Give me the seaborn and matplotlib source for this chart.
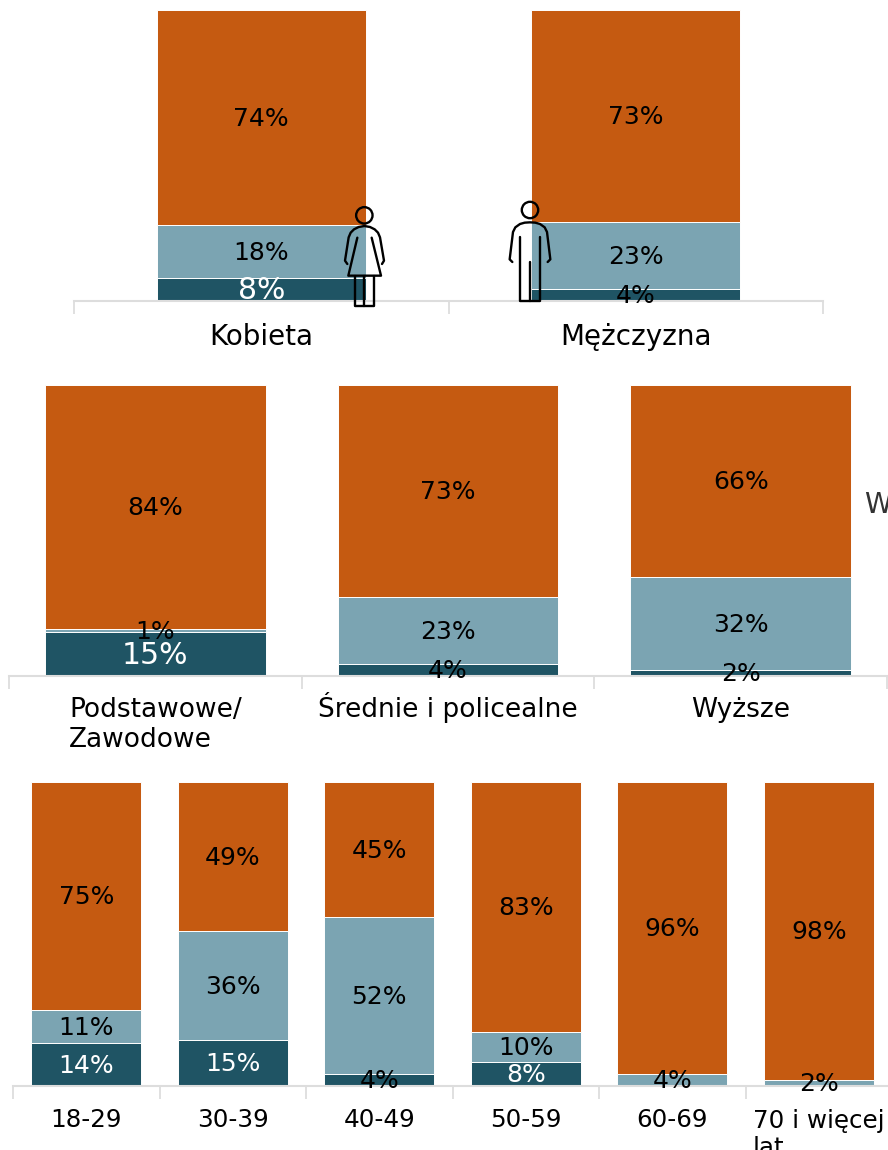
import numpy as np
import pandas as pd
import matplotlib
matplotlib.use('Agg')
import matplotlib.pyplot as plt
import seaborn as sns

sns.set_theme(style='white')
plt.rcParams['font.family'] = ['DejaVu Sans']

DARK = '#1F5464'
MID = '#7BA4B2'
ORANGE = '#C55A11'
GRID = '#DDDDDD'
W, H = 888, 1150

# płeć
sex_cats = ['Kobieta', 'Mężczyzna']
sex_dark = [8, 4]
sex_mid = [18, 23]
sex_orange = [74, 73]

# wykształcenie
edu_cats = ['Podstawowe/\nZawodowe', 'Średnie i policealne', 'Wyższe']
edu_dark = [15, 4, 2]
edu_mid = [1, 23, 32]
edu_orange = [84, 73, 66]

# wiek
age_cats = ['18-29', '30-39', '40-49', '50-59', '60-69', '70 i więcej\nlat']
age_dark = [14, 15, 4, 8, 0, 0]
age_mid = [11, 36, 52, 10, 4, 2]
age_orange = [75, 49, 45, 83, 96, 98]


def draw_panel(left, right, top, bottom, cats, dark, mid, orange, bar_w,
               tick_size, white_size, label_pad):
    ax = fig.add_axes([left / W, 1 - bottom / H, (right - left) / W, (bottom - top) / H])
    df = pd.DataFrame({'cat': cats, 'dark': dark, 'mid': mid, 'orange': orange})
    total = df[['dark', 'mid', 'orange']].sum(axis=1)
    base = np.zeros(len(df))
    for col, color in [('dark', DARK), ('mid', MID), ('orange', ORANGE)]:
        share = df[col] / total
        sns.barplot(x=df['cat'], y=share, color=color, bottom=base, width=bar_w,
                    saturation=1, edgecolor='white', linewidth=0.7, ax=ax, order=cats)
        for i, val in enumerate(df[col]):
            if val > 0:
                # małe ciemne odcinki mają czarny podpis
                white = col == 'dark' and val > 4
                ax.annotate(f'{val}%', (i, base[i] + share[i] / 2), xytext=(0, 1),
                            textcoords='offset points', color='white' if white else 'black',
                            fontsize=white_size if white else 18,
                            ha='center', va='center_baseline')
        base = base + share.values

    ax.set_xlim(-0.5, len(cats) - 0.5)
    ax.set_ylim(0, 1)
    ax.set_xlabel('')
    ax.set_ylabel('')
    ax.set_yticks([])
    ax.set_xticks(range(len(cats)))
    ax.set_xticklabels(cats, fontsize=tick_size, color='black', multialignment='left',
                       va='baseline', linespacing=1.18)
    ax.set_xticks(np.arange(len(cats) + 1) - 0.5, minor=True)
    ax.tick_params(axis='x', which='major', length=0, pad=label_pad)
    # va='baseline' liczy od ostatniej linii, więc etykiety dwuliniowe idą niżej
    for tick, cat in zip(ax.xaxis.get_major_ticks(), cats):
        if '\n' in cat:
            tick.set_pad(label_pad + tick_size * 1.137)
    ax.tick_params(axis='x', which='minor', length=9, width=1.3, color=GRID, bottom=True)
    for s in ['top', 'left', 'right']:
        ax.spines[s].set_visible(False)
    ax.spines['bottom'].set_color(GRID)
    ax.spines['bottom'].set_linewidth(1.5)
    ax.patch.set_alpha(0)
    return ax


fig = plt.figure(figsize=(W / 100, H / 100), dpi=100)

draw_panel(74, 823, 10, 301, sex_cats, sex_dark, sex_mid, sex_orange, 0.558, 20, 21.5, 31.5)
draw_panel(9, 887, 385, 676, edu_cats, edu_dark, edu_mid, edu_orange, 0.755, 19, 21.5, 29.5)
draw_panel(13, 892, 782, 1086, age_cats, age_dark, age_mid, age_orange, 0.75, 17.7, 18, 29.5)

fig.text(864 / W, 1 - 505 / H, 'Wykształcenie', fontsize=20, color='#333333', va='center')

# ikony kobiety i mężczyzny, współrzędne w pikselach obrazka
icon = fig.add_axes([0, 0, 1, 1])
icon.set_xlim(0, W)
icon.set_ylim(H, 0)
icon.axis('off')
icon.patch.set_alpha(0)
lw = 1.7


def stroke(points):
    xs = [320 + p[0] / 3 for p in points]
    ys = [190 + p[1] / 3 for p in points]
    icon.plot(xs, ys, color='black', lw=lw, solid_joinstyle='round', solid_capstyle='round')


def head(cx, cy):
    icon.add_patch(plt.Circle((320 + cx / 3, 190 + cy / 3), 8.2, fill=False, ec='black', lw=lw))


# kobieta
head(133, 76)
stroke([(82, 222), (75, 212), (86, 142), (92, 128), (102, 118), (116, 111), (133, 108),
        (150, 111), (164, 118), (174, 128), (180, 142), (192, 212), (186, 222)])
stroke([(112, 143), (85, 257), (183, 257), (155, 143)])
stroke([(105, 257), (105, 347), (162, 347), (162, 257)])
stroke([(133, 257), (133, 347)])

# mężczyzna
head(630, 60)
stroke([(577, 216), (569, 208), (579, 126), (586, 112), (600, 102), (614, 98), (630, 97),
        (646, 98), (660, 102), (674, 112), (681, 126), (691, 208), (683, 216)])
stroke([(600, 140), (600, 332), (660, 332), (660, 140)])
stroke([(630, 215), (630, 332)])

plt.savefig('out.png', dpi=100)
